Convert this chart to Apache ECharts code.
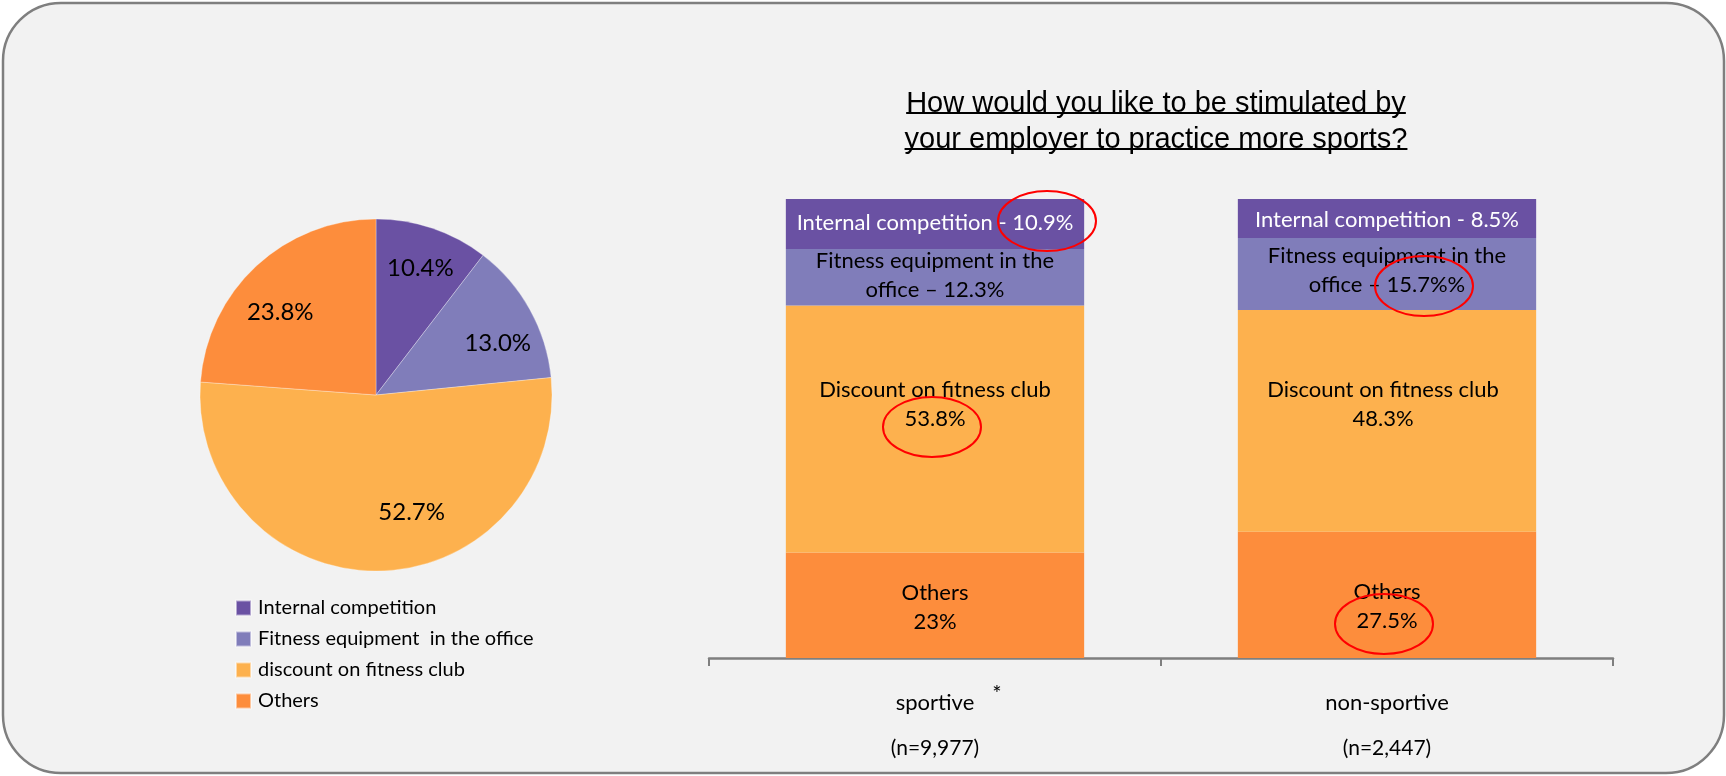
<!DOCTYPE html>
<html><head><meta charset="utf-8">
<script src="https://cdn.jsdelivr.net/npm/echarts@6/dist/echarts.min.js"></script>
<style>html,body{margin:0;padding:0;background:#fff;} #c{width:1726px;height:776px;} #tmp{width:1726px;height:776px;position:absolute;left:-5000px;top:0;}</style>
</head><body><div id="c"></div><div id="tmp"></div>
<script>
// ---------- DATA ----------
const pieNames = ['Internal competition', 'Fitness equipment  in the office', 'discount on fitness club', 'Others'];
const pieValues = [10.4, 13.0, 52.7, 23.8];

const categories = ['sportive', 'non-sportive'];
const sampleSizes = ['(n=9,977)', '(n=2,447)'];
const othersVals = [23, 27.5];
const discountVals = [53.8, 48.3];
const fitnessVals = [12.3, 15.7];
const internalVals = [10.9, 8.5];
const othersLabels = ['Others\n23%', 'Others\n27.5%'];
const discountLabels = ['Discount on fitness club\n53.8%', 'Discount on fitness club\n48.3%'];
const fitnessLabels = ['Fitness equipment in the\noffice \u2013 12.3%', 'Fitness equipment in the\noffice \u2013 15.7%%'];
const internalLabels = ['Internal competition - 10.9%', 'Internal competition - 8.5%'];
const titleLines = ['How would you like to be stimulated by', 'your employer to practice more sports?'];

// ---------- STYLE / LAYOUT ----------
const COL = { internal: '#6A51A3', fitness: '#807DBA', discount: '#FDB14E', others: '#FD8D3C' };
const pieColors = [COL.internal, COL.fitness, COL.discount, COL.others];
const FONT = 'Lato';
const PIE_C = [376, 395], PIE_R = 176;
const pieLabelNudge = [[3, -5], [9, 11], [34, -12], [-8, 12]];
const barLabelNudge = {
  others: [[0, 2], [0, 12]],
  discount: [[0, -25], [-4, -17]],
  fitness: [[0, -2], [0, -4]],
  internal: [[0, -1], [0, 1]]
};
const TITLE_CX = 1156, TITLE_FONT = 29;

const ctx = document.createElement('canvas').getContext('2d');
ctx.font = TITLE_FONT + 'px "Liberation Sans"';
const titleW = titleLines.map(t => ctx.measureText(t).width);

function barSeries(name, vals, labels, nudge, color, textColor) {
  return {
    type: 'bar', name: name, stack: 'total', barWidth: '66%',
    itemStyle: { color: color },
    label: {
      show: true, position: 'inside', color: textColor,
      fontFamily: FONT, fontSize: 22, lineHeight: 29,
      formatter: p => labels[p.dataIndex]
    },
    emphasis: { disabled: true },
    data: vals.map((v, i) => ({ value: v, label: { offset: nudge[i] } }))
  };
}

const baseOption = {
  animation: false,
  backgroundColor: '#ffffff',
  title: titleLines.map((t, i) => ({
    text: t, left: TITLE_CX - titleW[i] / 2, top: 86 + i * 36, padding: 0,
    textStyle: { fontFamily: 'Liberation Sans', fontSize: TITLE_FONT, fontWeight: 'normal', color: '#000', lineHeight: 36 }
  })),
  legend: {
    orient: 'vertical', left: 235, top: 596, padding: 0,
    data: pieNames, icon: 'rect', itemWidth: 15, itemHeight: 15, itemGap: 7,
    selectedMode: false,
    textStyle: { fontFamily: FONT, fontSize: 20, lineHeight: 24, color: '#000', padding: [0, 0, 0, 2] }
  },
  grid: { left: 709, right: 113, top: 199, bottom: 118 },
  xAxis: {
    type: 'category', data: categories,
    axisLine: { lineStyle: { color: '#7F7F7F', width: 2.5 } },
    axisTick: { show: true, length: 8, lineStyle: { color: '#7F7F7F', width: 2 } },
    axisLabel: {
      margin: 30, color: '#000',
      formatter: (v, i) => '{c|' + v + '}\n{n|' + sampleSizes[i] + '}',
      rich: {
        c: { fontFamily: FONT, fontSize: 22, lineHeight: 30, color: '#000' },
        n: { fontFamily: FONT, fontSize: 21, lineHeight: 60, color: '#000' }
      }
    }
  },
  yAxis: { type: 'value', min: 0, max: 100, show: false },
  series: [
    barSeries('Others (bar)', othersVals, othersLabels, barLabelNudge.others, COL.others, '#000'),
    barSeries('Discount (bar)', discountVals, discountLabels, barLabelNudge.discount, COL.discount, '#000'),
    barSeries('Fitness (bar)', fitnessVals, fitnessLabels, barLabelNudge.fitness, COL.fitness, '#000'),
    barSeries('Internal (bar)', internalVals, internalLabels, barLabelNudge.internal, COL.internal, '#fff'),
    {
      type: 'pie', name: 'pie', center: PIE_C, radius: PIE_R, startAngle: 90, clockwise: true,
      label: { show: false }, labelLine: { show: false },
      itemStyle: { borderColor: 'rgba(255,255,255,0.5)', borderWidth: 0.6 },
      emphasis: { disabled: true },
      data: pieNames.map((n, i) => ({ name: n, value: pieValues[i], itemStyle: { color: pieColors[i] } }))
    },
    {
      type: 'pie', name: 'pieLabels', center: PIE_C, radius: [76, PIE_R], startAngle: 90, clockwise: true,
      silent: true, legendHoverLink: false, z: 3,
      itemStyle: { color: 'rgba(0,0,0,0)' },
      label: {
        show: true, position: 'inside', fontFamily: FONT, fontSize: 24, color: '#000',
        formatter: p => p.value.toFixed(1) + '%'
      },
      labelLine: { show: false },
      labelLayout: p => ({ dx: pieLabelNudge[p.dataIndex][0], dy: pieLabelNudge[p.dataIndex][1] }),
      emphasis: { disabled: true },
      data: pieNames.map((n, i) => ({ name: n, value: pieValues[i] }))
    }
  ]
};

// ---------- measure bar geometry on a throw-away instance ----------
const tmpChart = echarts.init(document.getElementById('tmp'));
tmpChart.setOption(baseOption);
const stacks = [othersVals, discountVals, fitnessVals, internalVals];
function segMid(cat, level) {
  let base = 0;
  for (let k = 0; k < level; k++) base += stacks[k][cat];
  const mid = base + stacks[level][cat] / 2;
  return tmpChart.convertToPixel({ gridIndex: 0 }, [cat, mid]);
}
const ellipses = [
  { cat: 0, level: 3, dx: 112, dy: -3 },
  { cat: 1, level: 2, dx: 37, dy: 12 },
  { cat: 0, level: 1, dx: -3, dy: -2 },
  { cat: 1, level: 0, dx: -3, dy: 29 }
];
const g = [{
  type: 'rect', z: -10, silent: true,
  shape: { x: 3, y: 3, width: 1721, height: 770, r: 58 },
  style: { fill: '#F2F2F2', stroke: '#7F7F7F', lineWidth: 2.5 }
}];
ellipses.forEach(e => {
  const p = segMid(e.cat, e.level);
  g.push({ type: 'ellipse', z: 100, silent: true,
    shape: { cx: p[0] + e.dx, cy: p[1] + e.dy, rx: 49, ry: 30 },
    style: { fill: 'none', stroke: '#FF0000', lineWidth: 2 } });
});
const cat0 = tmpChart.convertToPixel({ gridIndex: 0 }, [0, 0]);
tmpChart.dispose();
document.getElementById('tmp').remove();

g.push({ type: 'text', z: 100, silent: true,
  style: { text: '*', x: cat0[0] + 62, y: 694, font: '22px ' + FONT, fill: '#000', align: 'center', verticalAlign: 'middle' } });
titleLines.forEach((t, i) => {
  g.push({ type: 'rect', z: 100, silent: true,
    shape: { x: TITLE_CX - titleW[i] / 2, y: 112 + i * 36, width: titleW[i], height: 2 },
    style: { fill: '#000' } });
});

const chart = echarts.init(document.getElementById('c'), null, { renderer: 'canvas' });
chart.setOption(Object.assign({}, baseOption, { graphic: g }));
</script>
</body></html>
